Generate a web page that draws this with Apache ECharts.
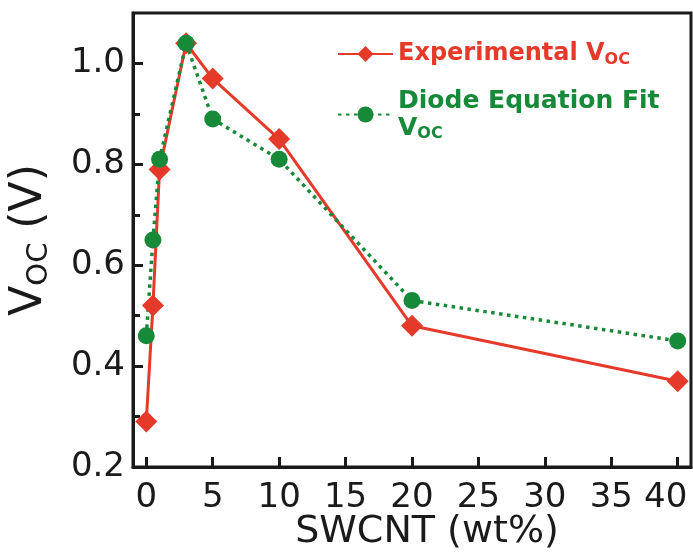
<!DOCTYPE html>
<html><head><meta charset="utf-8">
<script src="https://cdn.jsdelivr.net/npm/echarts@6/dist/echarts.min.js"></script>
<style>html,body{margin:0;padding:0;background:#fff}#c{width:693px;height:554px}</style>
</head><body><div id="c"></div>
<script>
const swcnt = [0, 0.5, 1, 3, 5, 10, 20, 40];
const experimentalVoc = [0.29, 0.52, 0.79, 1.04, 0.97, 0.85, 0.48, 0.37];
const diodeFitVoc = [0.46, 0.65, 0.81, 1.04, 0.89, 0.81, 0.53, 0.45];
const xTicks = [0, 5, 10, 15, 20, 25, 30, 35, 40];
const yTicks = [0.2, 0.4, 0.6, 0.8, 1.0];
const yMinorTicks = [0.3, 0.5, 0.7, 0.9];

const FONT = 'DejaVu Sans';
const RED = '#e5392a';
const GREEN = '#178a3a';
const INK = '#1a1a1a';

const chart = echarts.init(document.getElementById('c'), null, {renderer: 'canvas'});
const pair = (xs, ys) => xs.map((x, i) => [x, ys[i]]);
const lastX = xTicks[xTicks.length - 1];

chart.setOption({
  animation: false,
  backgroundColor: '#fff',
  grid: {left: 133, right: 2, top: 13, bottom: 87, show: true, borderColor: INK, borderWidth: 3,
    containLabel: false, outerBoundsMode: 'none'},
  legend: {
    orient: 'vertical', left: 332, top: 37,
    itemWidth: 55, itemHeight: 20, itemGap: 21, itemTextGap: 6,
    data: ['Experimental VOC', 'Diode Equation Fit VOC'],
    formatter: function (name) {
      return name === 'Experimental VOC'
        ? '{ra|Experimental V}{rs|OC}'
        : '{ga|Diode Equation Fit}\n{ga|V}{gs|OC}';
    },
    textStyle: {
      rich: {
        ra: {fontFamily: FONT, fontWeight: 'bold', fontSize: 24, color: RED, lineHeight: 27},
        rs: {fontFamily: FONT, fontWeight: 'bold', fontSize: 16, color: RED, lineHeight: 2, verticalAlign: 'bottom'},
        ga: {fontFamily: FONT, fontWeight: 'bold', fontSize: 25, color: GREEN, lineHeight: 27},
        gs: {fontFamily: FONT, fontWeight: 'bold', fontSize: 16, color: GREEN, lineHeight: 2, verticalAlign: 'bottom'}
      }
    }
  },
  xAxis: {
    type: 'value', min: -1, max: 41,
    axisLine: {onZero: false, lineStyle: {color: INK, width: 3}},
    axisTick: {inside: true, length: 10, customValues: xTicks, lineStyle: {color: INK, width: 3}},
    axisLabel: {customValues: xTicks, fontFamily: FONT, fontSize: 34, color: INK, margin: 14,
      formatter: v => v === lastX ? '{e|' + v + '}' : String(v),
      rich: {e: {fontFamily: FONT, fontSize: 34, color: INK, padding: [0, 24, 0, 0]}}},
    splitLine: {show: false},
    name: 'SWCNT (wt%)', nameLocation: 'middle', nameGap: 46, nameMoveOverlap: false,
    nameTextStyle: {fontFamily: FONT, fontSize: 38, color: INK, padding: [0, 0, 0, 30]}
  },
  yAxis: [{
    type: 'value', min: 0.2, max: 1.1, position: 'left',
    axisLine: {onZero: false, lineStyle: {color: INK, width: 3}},
    axisTick: {inside: true, length: 10, customValues: yTicks, lineStyle: {color: INK, width: 3}},
    axisLabel: {customValues: yTicks, fontFamily: FONT, fontSize: 34, color: INK, margin: 8,
      formatter: v => v.toFixed(1)},
    splitLine: {show: false},
    name: '{v|V}{s|OC}{v| (V)}', nameLocation: 'middle', nameGap: 79, nameRotate: 90, nameMoveOverlap: false,
    nameTextStyle: {
      rich: {
        v: {fontFamily: FONT, fontSize: 44, color: INK, lineHeight: 48},
        s: {fontFamily: FONT, fontSize: 29, color: INK, lineHeight: 38, verticalAlign: 'bottom'}
      }
    }
  }, {
    type: 'value', min: 0.2, max: 1.1, position: 'left',
    axisLine: {show: false, onZero: false},
    axisTick: {inside: true, length: 7, customValues: yMinorTicks, lineStyle: {color: INK, width: 3}},
    axisLabel: {show: false},
    splitLine: {show: false}
  }],
  series: [{
    name: 'Experimental VOC', type: 'line', yAxisIndex: 0,
    data: pair(swcnt, experimentalVoc),
    symbol: 'diamond', symbolSize: 22,
    lineStyle: {color: RED, width: 3},
    itemStyle: {color: RED}
  }, {
    name: 'Diode Equation Fit VOC', type: 'line', yAxisIndex: 0,
    data: pair(swcnt, diodeFitVoc),
    symbol: 'circle', symbolSize: 17,
    lineStyle: {color: GREEN, width: 3.5, type: [3.5, 4.5]},
    itemStyle: {color: GREEN}
  }]
});
</script></body></html>
